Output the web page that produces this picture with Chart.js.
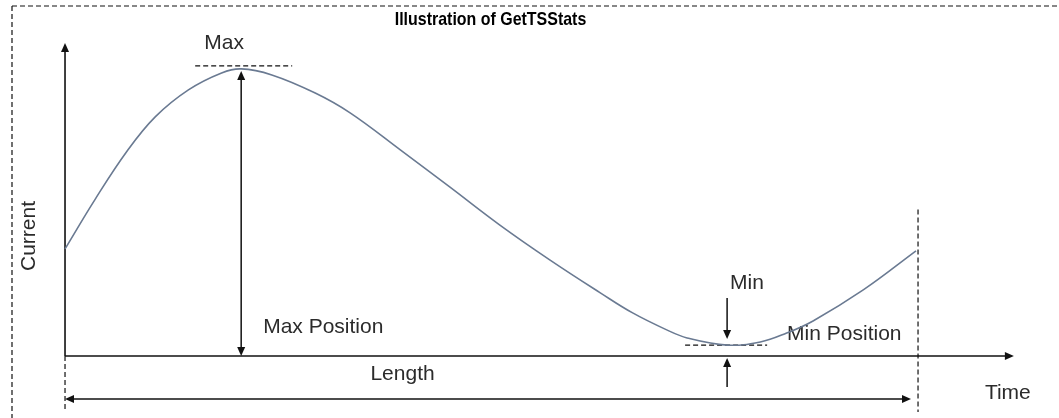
<!DOCTYPE html>
<html>
<head>
<meta charset="utf-8">
<script src="https://cdn.jsdelivr.net/npm/chart.js@4"></script>
<style>
  html, body { margin: 0; padding: 0; background: #fff; }
  #wrap { width: 1059px; height: 418px; }
</style>
</head>
<body>
<div id="wrap"><canvas id="myChart" width="1059" height="418"></canvas></div>
<script>
// time runs 0..100 over the window "Length", current is 0..100 (Max = 100)
const timeValues = [0, 3.5, 7.3, 10.6, 14.5, 18.4, 20.7, 24.3, 29.4, 33.5, 39.4, 45.2, 51.1, 57.0, 62.9, 66.7, 70.7, 73.1, 77.8, 81.7, 84.8, 87.9, 93.8, 100];
const currentValues = [37.3, 54.4, 71.4, 83.3, 92.7, 98.6, 100, 97.9, 91.6, 84.7, 71.8, 58.9, 45.6, 33.4, 22.0, 15.0, 9.1, 6.3, 3.8, 4.9, 8.0, 12.2, 23.0, 36.6];

const titleText = 'Illustration of GetTSStats';
const xAxisLabel = 'Time';
const yAxisLabel = 'Current';
const annotationLabels = { max: 'Max', maxPos: 'Max Position', min: 'Min', minPos: 'Min Position', length: 'Length' };

const points = timeValues.map((t, i) => ({ x: t, y: currentValues[i] }));
const maxIdx = currentValues.indexOf(Math.max(...currentValues));
const minIdx = currentValues.indexOf(Math.min(...currentValues));

const FONT = '"Liberation Sans", Arial, Helvetica, sans-serif';
const TEXT = '#2b2b2b';

function arrowHead(ctx, x, y, dir) {
    // dir: 'up' | 'down' | 'left' | 'right'
    const l = 9, w = 4;
    ctx.beginPath();
    ctx.moveTo(x, y);
    if (dir === 'up') { ctx.lineTo(x - w, y + l); ctx.lineTo(x + w, y + l); }
    if (dir === 'down') { ctx.lineTo(x - w, y - l); ctx.lineTo(x + w, y - l); }
    if (dir === 'left') { ctx.lineTo(x + l, y - w); ctx.lineTo(x + l, y + w); }
    if (dir === 'right') { ctx.lineTo(x - l, y - w); ctx.lineTo(x - l, y + w); }
    ctx.closePath();
    ctx.fill();
}

function line(ctx, x1, y1, x2, y2, dash) {
    ctx.save();
    ctx.setLineDash(dash || []);
    ctx.beginPath();
    ctx.moveTo(x1, y1);
    ctx.lineTo(x2, y2);
    ctx.stroke();
    ctx.restore();
}

function label(ctx, text, x, y, align) {
    ctx.textAlign = align || 'left';
    ctx.textBaseline = 'middle';
    ctx.fillText(text, x, y);
}

const diagramPlugin = {
    id: 'diagram',
    beforeDatasetsDraw(chart) {
        const ctx = chart.ctx;
        const xs = chart.scales.x, ys = chart.scales.y;
        const x0 = xs.getPixelForValue(0);
        const xL = xs.getPixelForValue(100);
        const yBase = ys.getPixelForValue(0);
        const yMax = ys.getPixelForValue(currentValues[maxIdx]);
        const maxX = xs.getPixelForValue(timeValues[maxIdx]);
        const minX = xs.getPixelForValue(timeValues[minIdx]);
        const minY = ys.getPixelForValue(currentValues[minIdx]);
        const H = chart.height, W = chart.width;

        ctx.save();
        ctx.strokeStyle = '#111';
        ctx.fillStyle = '#111';

        // outer dashed frame
        ctx.lineWidth = 1.2;
        line(ctx, 12, 6, W, 6, [5, 3]);
        line(ctx, 12, 6, 12, H, [5, 3]);

        // axes
        ctx.lineWidth = 1.6;
        const yTop = ys.getPixelForValue(109);
        line(ctx, x0, yBase, x0, yTop + 4);
        arrowHead(ctx, x0, yTop, 'up');
        const xEnd = xs.getPixelForValue(111.5);
        line(ctx, x0, yBase, xEnd - 4, yBase);
        arrowHead(ctx, xEnd, yBase, 'right');

        // window boundaries
        ctx.lineWidth = 1.2;
        line(ctx, x0, yBase, x0, H - 6, [5, 3]);
        line(ctx, xL + 2, ys.getPixelForValue(51), xL + 2, H - 6, [5, 3]);

        // length arrow
        ctx.lineWidth = 1.5;
        const yLen = yBase + 43;
        line(ctx, x0 + 4, yLen, xL - 8, yLen);
        arrowHead(ctx, x0, yLen, 'left');
        arrowHead(ctx, xL - 5, yLen, 'right');

        // max markers
        ctx.lineWidth = 1.4;
        line(ctx, maxX - 46, yMax - 3, maxX + 51, yMax - 3, [5, 3]);
        ctx.lineWidth = 1.5;
        line(ctx, maxX, yMax + 6, maxX, yBase - 6);
        arrowHead(ctx, maxX, yMax + 2, 'up');
        arrowHead(ctx, maxX, yBase, 'down');

        // min markers
        ctx.lineWidth = 1.4;
        line(ctx, minX - 42, minY, minX + 40, minY, [5, 3]);
        ctx.lineWidth = 1.5;
        line(ctx, minX, minY - 47, minX, minY - 10);
        arrowHead(ctx, minX, minY - 6, 'down');
        line(ctx, minX, yBase + 31, minX, yBase + 6);
        arrowHead(ctx, minX, yBase + 2, 'up');

        // texts
        ctx.fillStyle = TEXT;
        ctx.font = '21px ' + FONT;
        label(ctx, annotationLabels.max, maxX - 17, yMax - 26, 'center');
        label(ctx, annotationLabels.maxPos, maxX + 22, yBase - 29);
        label(ctx, annotationLabels.min, minX + 3, minY - 62);
        label(ctx, annotationLabels.minPos, minX + 60, minY - 11);
        label(ctx, annotationLabels.length, (x0 + xL) / 2 - 88, yBase + 18, 'center');
        label(ctx, xAxisLabel, xEnd - 29, yBase + 37);

        ctx.save();
        ctx.translate(29, ys.getPixelForValue(41.8));
        ctx.rotate(-Math.PI / 2);
        label(ctx, yAxisLabel, 0, 0, 'center');
        ctx.restore();

        // title (narrow bold)
        ctx.fillStyle = '#000';
        ctx.save();
        ctx.translate((x0 + xL) / 2, 20);
        ctx.scale(0.84, 1);
        ctx.font = 'bold 19px ' + FONT;
        label(ctx, titleText, 0, 0, 'center');
        ctx.restore();

        ctx.restore();
    }
};

const config = {
    type: 'line',
    data: {
        datasets: [{
            label: yAxisLabel,
            data: points,
            borderColor: '#6a7a92',
            borderWidth: 1.6,
            pointRadius: 0,
            fill: false,
            tension: 0.4
        }]
    },
    options: {
        responsive: false,
        animation: false,
        layout: { padding: 0 },
        plugins: {
            legend: { display: false },
            tooltip: { enabled: false },
            title: { display: false }
        },
        scales: {
            x: { type: 'linear', display: false, min: -7.64, max: 116.8 },
            y: { type: 'linear', display: false, min: -21.6, max: 124.0 }
        }
    },
    plugins: [diagramPlugin]
};

const ctx = document.getElementById('myChart').getContext('2d');
new Chart(ctx, config);
</script>
</body>
</html>
